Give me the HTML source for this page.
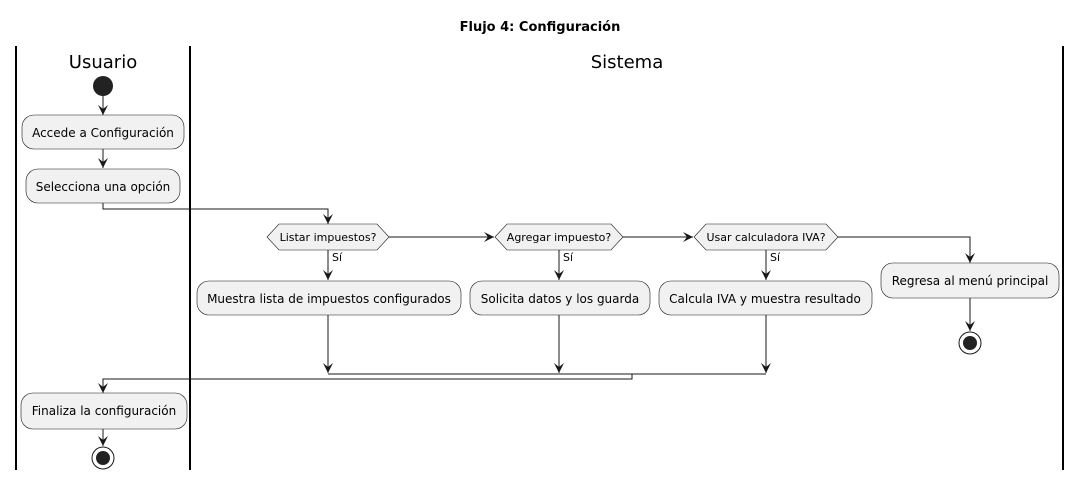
<!DOCTYPE html>
<html><head><meta charset="utf-8"><style>
html,body{margin:0;padding:0;background:#fff;}
svg{display:block;font-family:"DejaVu Sans","Liberation Sans",sans-serif;}
</style></head><body>
<svg width="1081" height="481" viewBox="0 0 1081 481" xmlns="http://www.w3.org/2000/svg">
<defs>
<marker id="a" viewBox="0 0 10 10" refX="10" refY="5" markerWidth="10" markerHeight="10" markerUnits="userSpaceOnUse" orient="auto">
<path d="M0,0 L10,5 L0,10 L4,5 Z" fill="#181818"/>
</marker>
</defs>
<text x="540" y="31" text-anchor="middle" font-size="13" font-weight="bold">Flujo 4: Configuración</text>
<g stroke="#000" stroke-width="2">
<line x1="16" y1="46" x2="16" y2="470"/>
<line x1="190" y1="46" x2="190" y2="470"/>
<line x1="1063" y1="46" x2="1063" y2="470"/>
</g>
<text x="103" y="68" text-anchor="middle" font-size="18">Usuario</text>
<text x="627" y="68" text-anchor="middle" font-size="18">Sistema</text>

<g stroke="#181818" stroke-width="1" fill="none">
<line x1="103" y1="96" x2="103" y2="115" marker-end="url(#a)"/>
<line x1="103" y1="149" x2="103" y2="168" marker-end="url(#a)"/>
<polyline points="103,203 103,209 328,209 328,224" marker-end="url(#a)"/>
<line x1="389" y1="237" x2="494" y2="237" marker-end="url(#a)"/>
<line x1="623" y1="237" x2="693" y2="237" marker-end="url(#a)"/>
<polyline points="838,237 970,237 970,263" marker-end="url(#a)"/>
<line x1="970" y1="298" x2="970" y2="331" marker-end="url(#a)"/>
<line x1="328" y1="250" x2="328" y2="280" marker-end="url(#a)"/>
<line x1="559" y1="250" x2="559" y2="280" marker-end="url(#a)"/>
<line x1="766" y1="250" x2="766" y2="280" marker-end="url(#a)"/>
<line x1="328" y1="315" x2="328" y2="373" marker-end="url(#a)"/>
<line x1="559" y1="315" x2="559" y2="373" marker-end="url(#a)"/>
<line x1="766" y1="315" x2="766" y2="373" marker-end="url(#a)"/>
<line x1="328" y1="374" x2="766" y2="374"/>
<polyline points="632,374 632,379 103,379 103,393" marker-end="url(#a)"/>
<line x1="103" y1="429" x2="103" y2="446" marker-end="url(#a)"/>
</g>

<circle cx="103" cy="86" r="10" fill="#222"/>
<g fill="#f1f1f1" stroke="#181818" stroke-width="0.6">
<rect x="22" y="115" width="162" height="34" rx="12"/>
<rect x="26" y="169" width="154" height="34" rx="12"/>
<rect x="197" y="281" width="264" height="34" rx="12"/>
<rect x="470" y="281" width="180" height="34" rx="12"/>
<rect x="659" y="281" width="213" height="34" rx="12"/>
<rect x="881" y="263" width="178" height="35" rx="12"/>
<rect x="21" y="393" width="166" height="36" rx="12"/>
<polygon points="267,237 279,224 377,224 389,237 377,250 279,250"/>
<polygon points="495,237 507,224 611,224 623,237 611,250 507,250"/>
<polygon points="694,237 706,224 826,224 838,237 826,250 706,250"/>
</g>
<g font-size="12" text-anchor="middle" fill="#000">
<text x="103" y="137">Accede a Configuración</text>
<text x="103" y="191">Selecciona una opción</text>
<text x="329" y="303">Muestra lista de impuestos configurados</text>
<text x="560" y="303">Solicita datos y los guarda</text>
<text x="765" y="303">Calcula IVA y muestra resultado</text>
<text x="970" y="285">Regresa al menú principal</text>
<text x="104" y="415">Finaliza la configuración</text>
</g>
<g font-size="11" text-anchor="middle">
<text x="328" y="241">Listar impuestos?</text>
<text x="559" y="241">Agregar impuesto?</text>
<text x="766" y="241">Usar calculadora IVA?</text>
</g>
<g font-size="11">
<text x="332" y="261">Sí</text>
<text x="563" y="261">Sí</text>
<text x="770" y="261">Sí</text>
</g>
<circle cx="970" cy="343" r="11" fill="#fff" stroke="#181818" stroke-width="1"/>
<circle cx="970" cy="343" r="7" fill="#222"/>
<circle cx="103" cy="458" r="11" fill="#fff" stroke="#181818" stroke-width="1"/>
<circle cx="103" cy="458" r="7" fill="#222"/>
</svg>
</body></html>
